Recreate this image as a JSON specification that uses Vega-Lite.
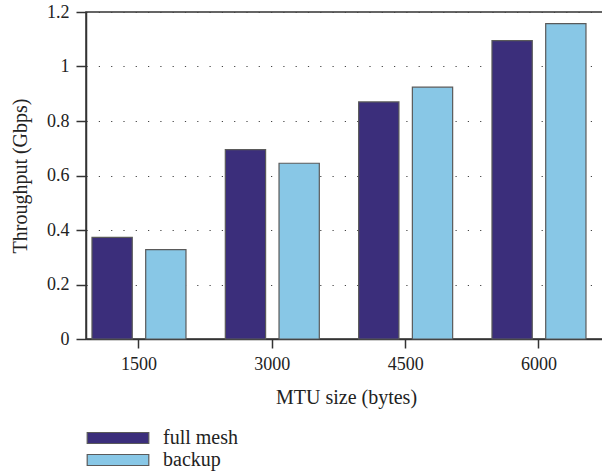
{
  "$schema": "https://vega.github.io/schema/vega-lite/v6.json",
  "width": 520,
  "height": 327,
  "autosize": "none",
  "padding": {"left": 86, "top": 12, "right": -4, "bottom": 133},
  "background": "white",
  "data": {
    "values": [
      {"mtu": "1500", "mode": "full mesh", "throughput": 0.373},
      {"mtu": "1500", "mode": "backup", "throughput": 0.328},
      {"mtu": "3000", "mode": "full mesh", "throughput": 0.695},
      {"mtu": "3000", "mode": "backup", "throughput": 0.645},
      {"mtu": "4500", "mode": "full mesh", "throughput": 0.870},
      {"mtu": "4500", "mode": "backup", "throughput": 0.924},
      {"mtu": "6000", "mode": "full mesh", "throughput": 1.095},
      {"mtu": "6000", "mode": "backup", "throughput": 1.157}
    ]
  },
  "config": {
    "font": "Liberation Serif",
    "view": {"stroke": "#333333", "strokeWidth": 1.5},
    "axis": {
      "labelFont": "Liberation Serif",
      "titleFont": "Liberation Serif",
      "labelFontSize": 18,
      "titleFontSize": 20,
      "labelColor": "#222222",
      "titleColor": "#222222",
      "titleFontWeight": "normal",
      "domainColor": "#333333",
      "domainWidth": 1.5,
      "tickColor": "#333333",
      "tickWidth": 1.5
    }
  },
  "mark": {"type": "bar", "stroke": "#5a5a5a", "strokeWidth": 1.2},
  "encoding": {
    "x": {
      "field": "mtu",
      "type": "nominal",
      "sort": ["1500", "3000", "4500", "6000"],
      "scale": {"paddingInner": 0.295, "paddingOuter": 0.0975, "align": 0.23},
      "axis": {
        "title": "MTU size (bytes)",
        "labelAngle": 0,
        "tickSize": 9,
        "labelPadding": 7,
        "titlePadding": 14
      }
    },
    "xOffset": {
      "field": "mode",
      "type": "nominal",
      "sort": ["full mesh", "backup"],
      "scale": {"paddingInner": 0.25, "paddingOuter": 0}
    },
    "y": {
      "field": "throughput",
      "type": "quantitative",
      "scale": {"domain": [0, 1.2], "nice": false},
      "axis": {
        "title": "Throughput (Gbps)",
        "values": [0, 0.2, 0.4, 0.6, 0.8, 1, 1.2],
        "format": "~g",
        "tickSize": 10,
        "labelPadding": 7,
        "titlePadding": 16,
        "grid": true,
        "gridColor": "#444444",
        "gridWidth": 1.2,
        "gridDash": [1.2, 11.1]
      }
    },
    "fill": {
      "field": "mode",
      "type": "nominal",
      "sort": ["full mesh", "backup"],
      "scale": {"domain": ["full mesh", "backup"], "range": ["#3b2e7b", "#88c7e6"]},
      "legend": {
        "title": null,
        "orient": "none",
        "legendX": 22,
        "legendY": 416,
        "symbolType": "M-5.6,-1H5.6V1H-5.6Z",
        "symbolSize": 121,
        "symbolStrokeColor": "#5a5a5a",
        "symbolStrokeWidth": 1.2,
        "symbolOpacity": 1,
        "labelFont": "Liberation Serif",
        "labelFontSize": 20,
        "labelColor": "#222222",
        "labelOffset": 35,
        "rowPadding": 2,
        "padding": 0
      }
    }
  }
}
